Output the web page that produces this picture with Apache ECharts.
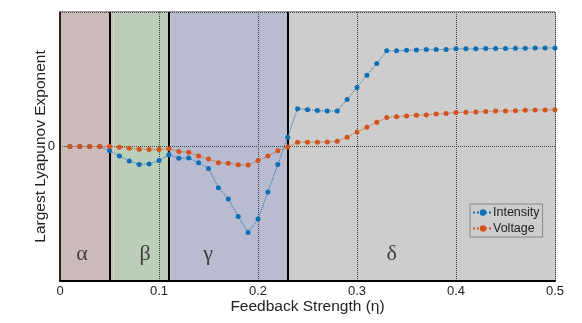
<!DOCTYPE html>
<html><head><meta charset="utf-8">
<script src="https://cdn.jsdelivr.net/npm/echarts@6/dist/echarts.min.js"></script>
<style>html,body{margin:0;padding:0;background:#fff}#c{width:582px;height:323px}</style>
</head><body><div id="c"></div>
<script>
var eta = [0.01,0.02,0.03,0.04,0.05,0.06,0.07,0.08,0.09,0.10,
0.11,0.12,0.13,0.14,0.15,0.16,0.17,0.18,0.19,0.20,
0.21,0.22,0.23,0.24,0.25,0.26,0.27,0.28,0.29,0.30,
0.31,0.32,0.33,0.34,0.35,0.36,0.37,0.38,0.39,0.40,
0.41,0.42,0.43,0.44,0.45,0.46,0.47,0.48,0.49,0.50];
var intensity = [0,0,0,0,-0.032,-0.07,-0.107,-0.133,-0.13,-0.104,
-0.062,-0.087,-0.085,-0.121,-0.163,-0.306,-0.39,-0.521,-0.64,-0.539,
-0.339,-0.133,0.069,0.281,0.274,0.267,0.264,0.264,0.35,0.439,
0.53,0.617,0.711,0.711,0.716,0.718,0.721,0.721,0.722,0.726,
0.726,0.727,0.728,0.729,0.729,0.73,0.731,0.732,0.732,0.733];
var voltage = [0,0,0,0,0,-0.005,-0.013,-0.02,-0.022,-0.022,
-0.017,-0.037,-0.043,-0.07,-0.093,-0.12,-0.124,-0.136,-0.138,-0.104,
-0.07,-0.032,-0.003,0.032,0.032,0.032,0.033,0.039,0.069,0.108,
0.143,0.18,0.215,0.222,0.227,0.232,0.234,0.242,0.245,0.252,
0.254,0.257,0.26,0.264,0.264,0.266,0.269,0.271,0.271,0.274];
var regionBounds = [0, 0.0540, 0.1115, 0.23, 0.5];
var regionColors = ['#cbbbbb', '#bccdb9', '#b9bbd0', '#cdcdcd'];
var regionNames = ['α', 'β', 'γ', 'δ'];
var regionLabelX = [0.0222, 0.0859, 0.1495, 0.335];
var regionLabelY = -0.8;
var xTicks = ['0', '0.1', '0.2', '0.3', '0.4', '0.5'];

var chart = echarts.init(document.getElementById('c'));
var areas = [];
for (var i = 0; i < 4; i++) {
  areas.push([{xAxis: regionBounds[i], itemStyle: {color: regionColors[i]}}, {xAxis: regionBounds[i + 1]}]);
}
var seps = [];
for (var j = 1; j < 4; j++) seps.push({xAxis: regionBounds[j]});
var labelData = [];
for (var k = 0; k < 4; k++) labelData.push({value: [regionLabelX[k], regionLabelY], label: {formatter: regionNames[k]}});

var blue = '#0c6fb5', orange = '#d2541d';
chart.setOption({
  animation: false,
  grid: {left: 60, right: 27, top: 12, bottom: 42, show: true, borderColor: '#3a3a3a', borderWidth: 1},
  legend: {
    data: ['Intensity', 'Voltage'], orient: 'vertical', left: 470, top: 204,
    backgroundColor: '#cdcdcd', borderColor: '#8a8a8a', borderWidth: 1,
    padding: [2, 3, 2, 2], itemGap: 3, itemWidth: 20, itemHeight: 8,
    textStyle: {fontSize: 12.5, color: '#222', fontFamily: 'Liberation Sans', padding: [0, 0, 0, -5]}
  },
  xAxis: {
    type: 'value', min: 0, max: 0.5, interval: 0.1, z: 3,
    name: 'Feedback Strength (η)', nameLocation: 'middle', nameGap: 18, nameMoveOverlap: false,
    nameTextStyle: {fontSize: 15.5, color: '#222', fontFamily: 'Liberation Sans'},
    axisLine: {onZero: false, lineStyle: {color: '#000', width: 2}},
    axisTick: {show: false},
    axisLabel: {fontSize: 13, color: '#222', margin: 4, fontFamily: 'Liberation Sans',
      formatter: function (v) { return xTicks[Math.round(v * 10)]; }},
    splitLine: {show: true, lineStyle: {type: 'dotted', color: '#444', width: 1}}
  },
  yAxis: {
    type: 'value', min: -1, max: 1, interval: 1, z: 3,
    name: 'Largest Lyapunov Exponent', nameLocation: 'middle', nameGap: 11, nameMoveOverlap: false,
    nameTextStyle: {fontSize: 15.5, color: '#222', fontFamily: 'Liberation Sans'},
    axisLine: {onZero: false, lineStyle: {color: '#000', width: 1.5}},
    axisTick: {show: false},
    axisLabel: {fontSize: 13, color: '#222', margin: 5, fontFamily: 'Liberation Sans',
      formatter: function (v) { return v === 0 ? '0' : ''; }},
    splitLine: {show: true, lineStyle: {type: 'dotted', color: '#444', width: 1}}
  },
  series: [
    {
      name: 'bg', type: 'line', data: [], z: 1, silent: true,
      markArea: {silent: true, data: areas, itemStyle: {opacity: 1}}
    },
    {
      name: 'sep', type: 'line', data: [], z: 4, silent: true,
      markLine: {silent: true, symbol: 'none', label: {show: false},
        lineStyle: {color: '#000', width: 2, type: 'solid'}, data: seps}
    },
    {
      name: 'labels', type: 'scatter', data: labelData, symbolSize: 0, z: 4, silent: true,
      label: {show: true, position: 'inside', fontSize: 22, color: '#1a1a1a', fontFamily: 'Liberation Serif'}
    },
    {
      name: 'Intensity', type: 'line', z: 5,
      data: eta.map(function (x, i) { return [x, intensity[i]]; }),
      symbol: 'circle', symbolSize: 5, showSymbol: true,
      itemStyle: {color: blue},
      lineStyle: {color: blue, width: 1, type: 'dotted'}
    },
    {
      name: 'Voltage', type: 'line', z: 6,
      data: eta.map(function (x, i) { return [x, voltage[i]]; }),
      symbol: 'circle', symbolSize: 5, showSymbol: true,
      itemStyle: {color: orange},
      lineStyle: {color: orange, width: 1, type: 'dotted'}
    }
  ]
});
</script></body></html>
